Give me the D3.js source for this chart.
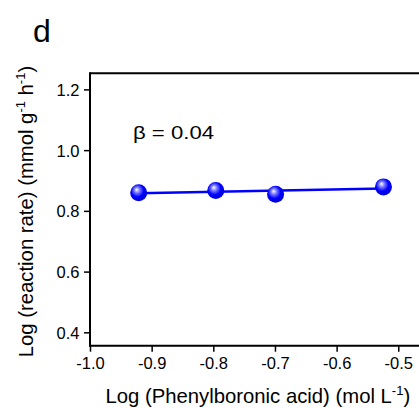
<!DOCTYPE html>
<html><head><meta charset="utf-8">
<script src="https://cdn.jsdelivr.net/npm/d3@7"></script>
<style>body{margin:0;background:#fff}svg{display:block;font-family:"Liberation Sans",Arial,sans-serif}</style>
</head><body>
<script>
const xValues = [-0.921, -0.796, -0.699, -0.524];
const yValues = [0.860, 0.867, 0.855, 0.879];
const xTicks = [-1.0, -0.9, -0.8, -0.7, -0.6, -0.5];
const yTicks = [0.4, 0.6, 0.8, 1.0, 1.2];
const slopeLabel = "β = 0.04";

const W = 419, H = 408;
const svg = d3.select("body").append("svg").attr("width", W).attr("height", H);
const x = d3.scaleLinear().domain([-1.0, -0.45]).range([90, 429.1]);
const y = d3.scaleLinear().domain([0.356, 1.253]).range([345.7, 73.3]);
const [yLo, yHi] = y.domain();

const defs = svg.append("defs");
const g = defs.append("radialGradient").attr("id", "ball").attr("cx", "45%").attr("cy", "42%").attr("r", "60%").attr("fx", "38%").attr("fy", "32%");
g.append("stop").attr("offset", "0%").attr("stop-color", "#ffffff");
g.append("stop").attr("offset", "28%").attr("stop-color", "#7a7aff");
g.append("stop").attr("offset", "62%").attr("stop-color", "#0000ff");
g.append("stop").attr("offset", "100%").attr("stop-color", "#0000d0");

// top frame line
svg.append("line").attr("x1", x(-1.0)).attr("x2", W + 10).attr("y1", y(yHi)).attr("y2", y(yHi)).attr("stroke", "#000").attr("stroke-width", 2);

const fmt = d => d3.format(".1f")(d).replace("−", "-");
const xAxis = svg.append("g").attr("transform", `translate(0,${y(yLo)})`)
  .call(d3.axisBottom(x).tickValues(xTicks).tickFormat(fmt).tickSizeOuter(0).tickSize(6));
const yAxis = svg.append("g").attr("transform", `translate(${x(-1.0)},0)`)
  .call(d3.axisLeft(y).tickValues(yTicks).tickFormat(fmt).tickSizeOuter(0).tickSize(6));
[xAxis, yAxis].forEach(a => {
  a.select(".domain").attr("stroke-width", 2);
  a.selectAll(".tick line").attr("stroke-width", 1.5);
  a.selectAll(".tick text").attr("font-size", 16.5).attr("font-family", "Liberation Sans, Arial, sans-serif").attr("fill", "#000");
});
xAxis.selectAll(".tick text").attr("y", 23.3).attr("dy", null);
yAxis.selectAll(".tick text").attr("x", -10.5).attr("dy", "0.36em");
xAxis.select(".domain").attr("d", `M${x(-1.0) - 1},0H${W + 10}`);
yAxis.select(".domain").attr("d", `M0,${y(yHi) - 1}V${y(yLo) + 1}`);

// linear fit
const mx = d3.mean(xValues), my = d3.mean(yValues);
const sxy = d3.sum(xValues, (v, i) => (v - mx) * (yValues[i] - my));
const sxx = d3.sum(xValues, v => (v - mx) * (v - mx));
const k = sxy / sxx, b0 = my - k * mx;
const x0 = d3.min(xValues), x1 = d3.max(xValues);
svg.append("line").attr("x1", x(x0)).attr("x2", x(x1)).attr("y1", y(k * x0 + b0)).attr("y2", y(k * x1 + b0))
  .attr("stroke", "#0000ff").attr("stroke-width", 2.5);

svg.selectAll("circle.pt").data(xValues).enter().append("circle").attr("class", "pt")
  .attr("cx", d => x(d)).attr("cy", (d, i) => y(yValues[i])).attr("r", 8.5).attr("fill", "url(#ball)");

svg.append("text").attr("x", 133).attr("y", 139).attr("font-size", 19)
  .attr("textLength", 81).attr("lengthAdjust", "spacingAndGlyphs").text(slopeLabel);
svg.append("text").attr("x", 33).attr("y", 41.5).attr("font-size", 32).text("d");

const xl = svg.append("text").attr("x", 105.5).attr("y", 403).attr("font-size", 20.3);
xl.append("tspan").text("Log (Phenylboronic acid) (mol L");
xl.append("tspan").attr("font-size", 13).attr("dy", -8).text("-1");
xl.append("tspan").attr("dy", 8).text(")");

const yl = svg.append("text").attr("transform", "translate(32.5,211.5) rotate(-90)").attr("text-anchor", "middle").attr("font-size", 20.3);
yl.append("tspan").text("Log (reaction rate) (mmol g");
yl.append("tspan").attr("font-size", 13).attr("dy", -8).text("-1");
yl.append("tspan").attr("dy", 8).text(" h");
yl.append("tspan").attr("font-size", 13).attr("dy", -8).text("-1");
yl.append("tspan").attr("dy", 8).text(")");
</script>
</body></html>
